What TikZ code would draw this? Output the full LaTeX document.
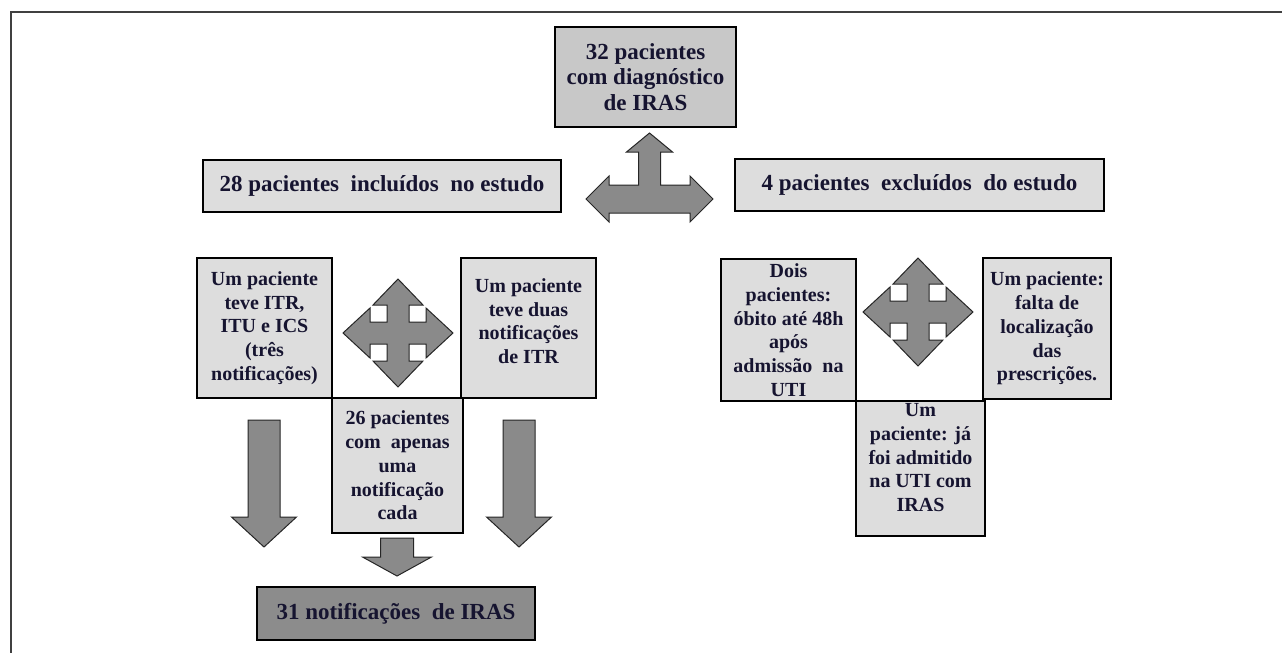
\documentclass[tikz,border=0pt]{standalone}
\usepackage{fontspec}
\setmainfont{Liberation Serif}
\usetikzlibrary{positioning}

\definecolor{lightbox}{RGB}{221,221,221}
\definecolor{midbox}{RGB}{200,200,200}
\definecolor{darkbox}{RGB}{140,140,140}
\definecolor{arrowgray}{RGB}{138,138,138}
\definecolor{inkblue}{RGB}{22,20,48}

\tikzset{
  box/.style={draw=black, line width=1.6pt, fill=lightbox, align=center,
    inner sep=0pt, text=inkblue, font=\bfseries\fontsize{20}{23.7}\selectfont},
  bigbox/.style={box, font=\bfseries\fontsize{23}{25.7}\selectfont},
  blockarrow/.style={fill=arrowgray, draw=black!85, line width=1pt, line join=miter},
}

\begin{document}
\begin{tikzpicture}[x=1pt, y=-1pt]
	\useasboundingbox (0,0) rectangle (1282,653);
	% frame
	\draw[black!75, line width=1.5pt] (1282,12) -- (11,12) -- (11,653);

	% boxes
	\node[bigbox, fill=midbox, minimum width=181pt, minimum height=100pt] (total) at (645.5,77) {32 pacientes\\com diagnóstico\\de IRAS};
	\node[bigbox, minimum width=358pt, minimum height=52pt] (incl) at (382,186) {28 pacientes~ incluídos~ no estudo};
	\node[bigbox, minimum width=369pt, minimum height=52pt] (excl) at (919.5,185) {4 pacientes~ excluídos~ do estudo};

	\node[box, minimum width=135pt, minimum height=140pt] (tres) at (264.5,328) {Um paciente\\teve ITR,\\ITU e ICS\\(três\\notificações)};
	\node[box, minimum width=135pt, minimum height=140pt, text depth=14pt] (duas) at (528.5,328) {Um paciente\\teve duas\\notificações\\de ITR};
	\node[box, minimum width=131pt, minimum height=135pt] (uma) at (397.5,465.5) {26 pacientes\\com~ apenas\\uma\\notificação\\cada};
	\node[bigbox, fill=darkbox, minimum width=278pt, minimum height=53pt] (notif) at (396,613.5) {31 notificações~ de IRAS};

	\node[box, minimum width=135pt, minimum height=142pt] (obito) at (788.5,330) {Dois\\pacientes:\\óbito até 48h\\após\\admissão~ na\\UTI};
	\node[box, minimum width=128pt, minimum height=141pt] (falta) at (1047,328.5) {Um paciente:\\falta de\\localização\\das\\prescrições.};
	\node[box, minimum width=129pt, minimum height=135pt, text depth=22pt] (admit) at (920.5,468.5) {Um\\paciente: já\\foi admitido\\na UTI com\\IRAS};

	% three-way arrow
	\filldraw[blockarrow, shift={(649.5,199)}] (0,-66) -- (23,-47) -- (11,-47) -- (11,-14) -- (40.5,-14) -- (40.5,-23) -- (63.5,0) -- (40.5,23) -- (40.5,14) -- (-40.5,14) -- (-40.5,23) -- (-63.5,0) -- (-40.5,-23) -- (-40.5,-14) -- (-11,-14) -- (-11,-47) -- (-23,-47) -- cycle;

	% four-way arrows
	\foreach \cx/\cy in {398/333, 918/312}
		\filldraw[blockarrow, shift={(\cx,\cy)}] (0,-54) -- (25,-28) -- (11,-28) -- (11,-11) -- (28,-11) -- (28,-25) -- (55,0) -- (28,25) -- (28,11) -- (11,11) -- (11,28) -- (25,28) -- (0,54) -- (-25,28) -- (-11,28) -- (-11,11) -- (-28,11) -- (-28,25) -- (-55,0) -- (-28,-25) -- (-28,-11) -- (-11,-11) -- (-11,-28) -- (-25,-28) -- cycle;

	% down arrows
	\foreach \cx in {264, 519}
		\filldraw[blockarrow, shift={(\cx,0)}] (-16,420) -- (16,420) -- (16,517) -- (32.5,517) -- (0,547) -- (-32.5,517) -- (-16,517) -- cycle;
	\filldraw[blockarrow, shift={(397,0)}] (-16.5,538) -- (16.5,538) -- (16.5,557) -- (34.5,557) -- (0,576) -- (-34.5,557) -- (-16.5,557) -- cycle;
\end{tikzpicture}
\end{document}
